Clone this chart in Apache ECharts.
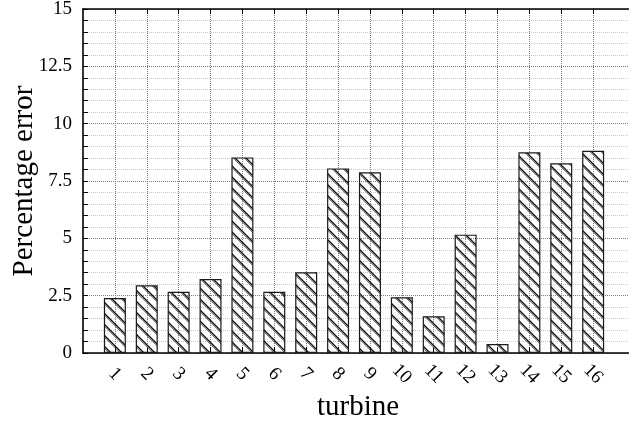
<!DOCTYPE html>
<html>
<head>
<meta charset="utf-8">
<title>Percentage error per turbine</title>
<script src="https://cdn.jsdelivr.net/npm/echarts@6/dist/echarts.min.js"></script>
<style>
  html, body { margin: 0; padding: 0; background: #fff; }
  #chart { width: 629px; height: 426px; }
</style>
</head>
<body>
<div id="chart"></div>
<script>
// Turbine numbers and their percentage error
const turbines = [1, 2, 3, 4, 5, 6, 7, 8, 9, 10, 11, 12, 13, 14, 15, 16];
const percentError = [2.4, 2.95, 2.67, 3.23, 8.53, 2.67, 3.52, 8.05, 7.88, 2.43, 1.6, 5.16, 0.39, 8.75, 8.27, 8.82];
const yTicks = [0, 2.5, 5, 7.5, 10, 12.5, 15];

// Diagonal hatch fill, transparent between strokes
function hatchPattern() {
  const s = 11;
  const c = document.createElement('canvas');
  c.width = s; c.height = s;
  const ctx = c.getContext('2d');
  for (let k = -1; k <= 1; k++) {
    ctx.strokeStyle = '#111';
    ctx.lineWidth = 1.4;
    ctx.beginPath();
    ctx.moveTo(-2, -2 + k * s);
    ctx.lineTo(s + 2, s + 2 + k * s);
    ctx.stroke();
    ctx.strokeStyle = 'rgba(80,80,80,0.7)';
    ctx.lineWidth = 1;
    ctx.beginPath();
    ctx.moveTo(-2, -2 + k * s + 2);
    ctx.lineTo(s + 2, s + 2 + k * s + 2);
    ctx.stroke();
  }
  return c;
}

const serif = '"Liberation Serif", "DejaVu Serif", serif';
const chart = echarts.init(document.getElementById('chart'), null, { renderer: 'canvas' });

const xMax = 17.25;
const axisBlack = { color: '#000', width: 1.6 };

chart.setOption({
  animation: false,
  backgroundColor: '#fff',
  grid: { left: 83, top: 9, right: -4, bottom: 73, containLabel: false, outerBoundsMode: 'none' },
  xAxis: [
    {
      type: 'value',
      position: 'bottom',
      min: 0,
      max: xMax,
      name: 'turbine',
      nameLocation: 'middle',
      nameGap: 40,
      nameMoveOverlap: false,
      nameTextStyle: { fontFamily: serif, fontSize: 29, color: '#000' },
      axisLine: { show: true, onZero: false, lineStyle: axisBlack },
      axisTick: { show: true, inside: true, length: 6, customValues: turbines, lineStyle: { color: '#000', width: 1 } },
      axisLabel: {
        customValues: turbines,
        formatter: v => String(v),
        rotate: -45,
        align: 'center',
        verticalAlign: 'middle',
        margin: 21,
        fontFamily: serif,
        fontSize: 19,
        color: '#000'
      },
      splitLine: { show: true, lineStyle: { color: '#808080', width: 1, type: [1, 1] } }
    },
    {
      type: 'value',
      position: 'top',
      min: 0,
      max: xMax,
      axisLine: { show: true, onZero: false, lineStyle: axisBlack },
      axisTick: { show: true, inside: true, length: 5, customValues: turbines, lineStyle: { color: '#000', width: 1 } },
      axisLabel: { show: false },
      splitLine: { show: false }
    }
  ],
  yAxis: {
    type: 'value',
    min: 0,
    max: 15,
    interval: 2.5,
    name: 'Percentage error',
    nameLocation: 'middle',
    nameGap: 44,
    nameMoveOverlap: false,
    nameTextStyle: { fontFamily: serif, fontSize: 29, color: '#000' },
    axisLine: { show: true, onZero: false, lineStyle: axisBlack },
    axisTick: { show: true, inside: true, length: 5, customValues: yTicks, lineStyle: { color: '#000', width: 1 } },
    minorTick: { show: true, splitNumber: 5, length: 5, lineStyle: { color: '#000', width: 1 } },
    axisLabel: { margin: 11, fontFamily: serif, fontSize: 19, color: '#000' },
    splitLine: { show: true, lineStyle: { color: '#808080', width: 1, type: [1, 1] } },
    minorSplitLine: { show: true, lineStyle: { color: '#c8c8c8', width: 1, type: [1, 1] } }
  },
  series: [{
    type: 'bar',
    xAxisIndex: 0,
    barWidth: 22,
    data: turbines.map((t, i) => [t, percentError[i]]),
    itemStyle: {
      color: { image: hatchPattern(), repeat: 'repeat' },
      borderColor: '#1a1a1a',
      borderWidth: 1.2
    }
  }]
});
</script>
</body>
</html>
